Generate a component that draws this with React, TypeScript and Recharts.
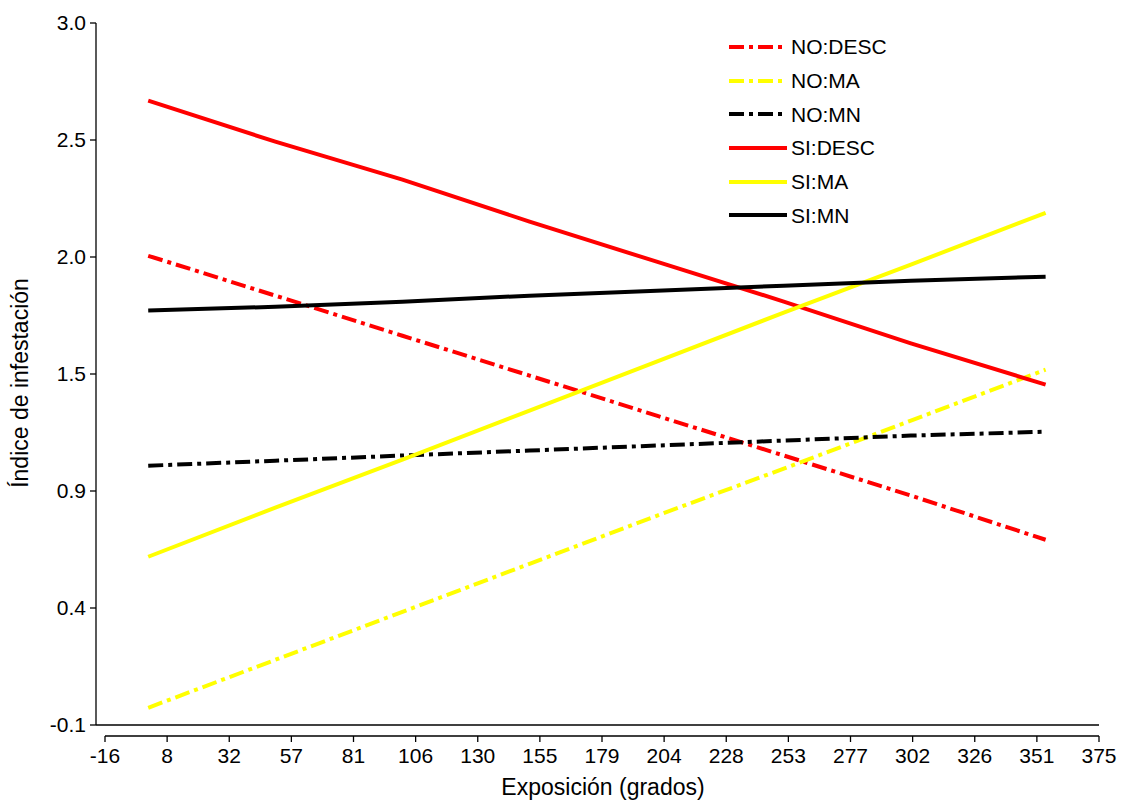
import React from 'react';
import { LineChart, Line, XAxis, YAxis, ReferenceLine, Legend } from 'recharts';

// Exposure (degrees) at which each fitted line was read
const exposure = [1, 51, 101, 151, 201, 251, 301, 354];

// Infestation index per group
const noDesc = [1.972, 1.796, 1.619, 1.443, 1.266, 1.09, 0.913, 0.718];
const noMa = [-0.024, 0.188, 0.4, 0.612, 0.824, 1.032, 1.244, 1.469];
const noMn = [1.045, 1.067, 1.09, 1.112, 1.134, 1.156, 1.178, 1.195];
const siDesc = [2.657, 2.476, 2.308, 2.123, 1.946, 1.77, 1.585, 1.403];
const siMa = [0.643, 0.86, 1.072, 1.288, 1.505, 1.721, 1.933, 2.162];
const siMn = [1.73, 1.747, 1.769, 1.796, 1.818, 1.84, 1.862, 1.88];

// Axis ticks
const xTicks = [-16, 8.4375, 32.875, 57.3125, 81.75, 106.1875, 130.625, 155.0625, 179.5, 203.9375, 228.375, 252.8125, 277.25, 301.6875, 326.125, 350.5625, 375];
const xTickLabels = ['-16', '8', '32', '57', '81', '106', '130', '155', '179', '204', '228', '253', '277', '302', '326', '351', '375'];
const yTicks = [-0.1, 0.41667, 0.93333, 1.45, 1.96667, 2.48333, 3.0];
const yTickLabels = ['-0.1', '0.4', '0.9', '1.5', '2.0', '2.5', '3.0'];

const seriesNames = ['NO:DESC', 'NO:MA', 'NO:MN', 'SI:DESC', 'SI:MA', 'SI:MN'];
const seriesKeys = ['noDesc', 'noMa', 'noMn', 'siDesc', 'siMa', 'siMn'];
const seriesValues = [noDesc, noMa, noMn, siDesc, siMa, siMn];
const seriesColors = ['#ff0000', '#ffff00', '#000000', '#ff0000', '#ffff00', '#000000'];
const DASH = '15 5 4 5';
const seriesDash = [DASH, DASH, DASH, undefined, undefined, undefined];

const rows = exposure.map((x, i) => {
  const r: Record<string, number> = { x };
  seriesKeys.forEach((k, j) => {
    r[k] = seriesValues[j][i];
  });
  return r;
});

const FONT = '"Liberation Sans", Arial, sans-serif';

const LegendBox = () => (
  <div style={{ fontFamily: FONT, fontSize: 21, color: '#000' }}>
    {seriesNames.map((name, i) => (
      <div key={name} style={{ display: 'flex', alignItems: 'center', height: 33.7 }}>
        <svg width={60} height={6} style={{ display: 'block' }}>
          <line x1={0} x2={58} y1={3} y2={3} stroke={seriesColors[i]} strokeWidth={4} strokeDasharray={seriesDash[i]} />
        </svg>
        <span style={{ marginLeft: 2, lineHeight: '21px' }}>{name}</span>
      </div>
    ))}
  </div>
);

export default function App() {
  return (
    <div style={{ position: 'absolute', left: 0, top: 0, width: 1121, height: 800, background: '#fff' }}>
      <LineChart width={1121} height={800} data={rows} margin={{ top: 23, right: 22, bottom: 0, left: 0 }}>
        <XAxis
          type="number"
          dataKey="x"
          domain={[-16, 375]}
          ticks={xTicks}
          interval={0}
          tickFormatter={(v: number, i: number) => xTickLabels[i]}
          padding={{ left: 9, right: 0 }}
          height={64}
          tickSize={6}
          tickMargin={6}
          axisLine={{ stroke: '#000', strokeWidth: 1.3, strokeDasharray: '0 9 994 0' }}
          tickLine={{ stroke: '#000', strokeWidth: 1.3 }}
          tick={{ fill: '#000', fontSize: 21, fontFamily: FONT }}
          label={{
            content: () => (
              <text x={603} y={795} textAnchor="middle" fontSize={23} fontFamily={FONT} fill="#000">
                Exposición (grados)
              </text>
            ),
          }}
        />
        <YAxis
          type="number"
          domain={[-0.1, 3.0]}
          ticks={yTicks}
          interval={0}
          tickFormatter={(v: number, i: number) => yTickLabels[i]}
          padding={{ top: 0, bottom: 11 }}
          width={96}
          tickSize={6}
          tickMargin={4}
          axisLine={{ stroke: '#000', strokeWidth: 1.3, strokeDasharray: '702 30' }}
          tickLine={{ stroke: '#000', strokeWidth: 1.3 }}
          tick={{ fill: '#000', fontSize: 21, fontFamily: FONT }}
          label={{
            content: () => (
              <text
                x={0}
                y={0}
                transform="translate(28,383) rotate(-90)"
                textAnchor="middle"
                fontSize={23}
                fontFamily={FONT}
                fill="#000"
              >
                Índice de infestación
              </text>
            ),
          }}
        />
        <ReferenceLine y={-0.1} stroke="#000" strokeWidth={1.3} />
        {seriesKeys.map((k, i) => (
          <Line
            key={k}
            type="linear"
            dataKey={k}
            name={seriesNames[i]}
            stroke={seriesColors[i]}
            strokeWidth={4}
            strokeDasharray={seriesDash[i]}
            dot={false}
            activeDot={false}
            isAnimationActive={false}
          />
        ))}
        <Legend
          layout="vertical"
          align="center"
          verticalAlign="middle"
          wrapperStyle={{ left: 729, top: 30, width: 200, height: 210 }}
          content={() => <LegendBox />}
        />
      </LineChart>
    </div>
  );
}
